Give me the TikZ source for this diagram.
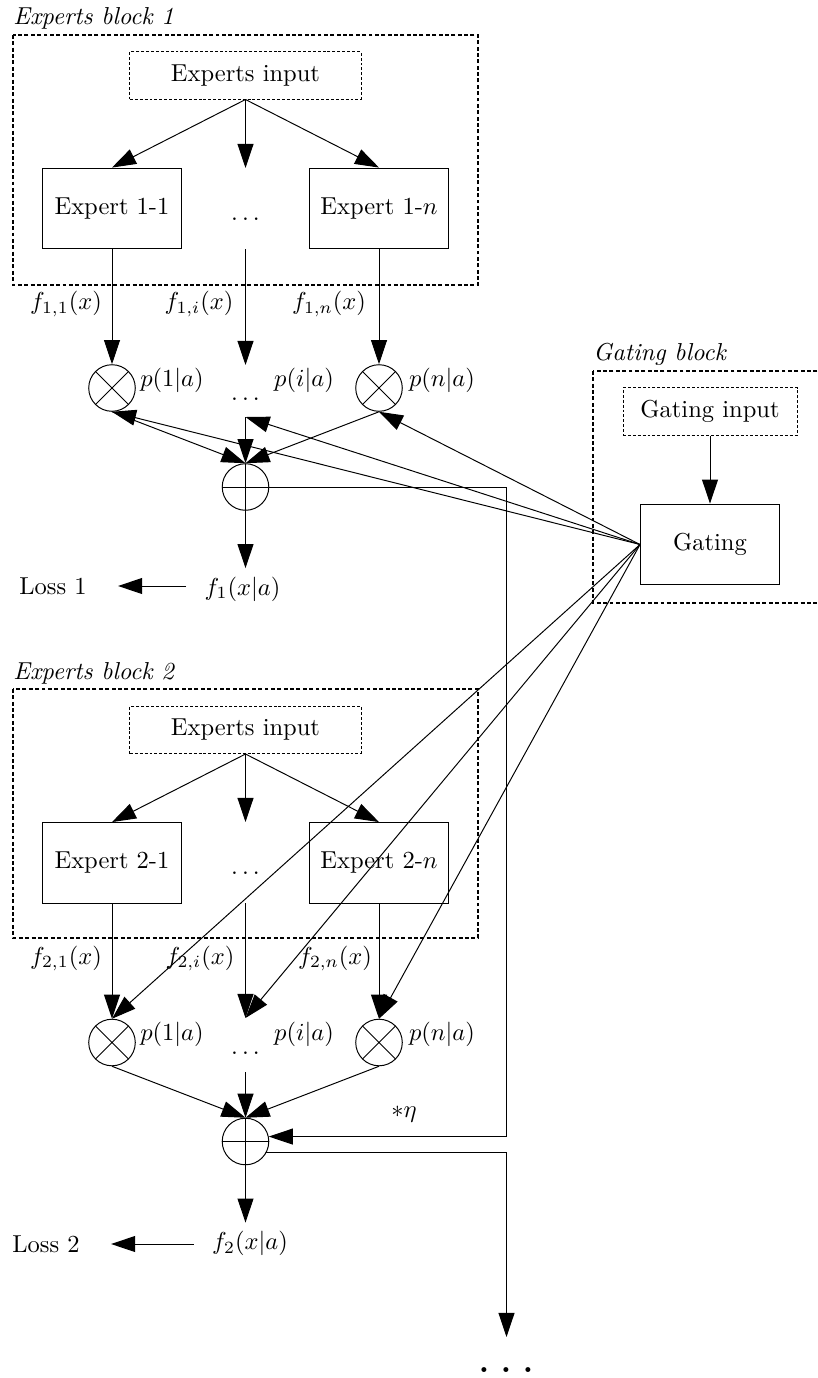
\documentclass[tikz,border=0pt]{standalone}
\usetikzlibrary{arrows.meta}
\begin{document}
\begin{tikzpicture}[x=0.408pt, y=-0.408pt,
                    boxStyle/.style={draw, minimum width=56.7pt, minimum height=33pt},
                    inputStyle/.style={draw, dash pattern=on 1.2pt off 0.8pt, minimum height=19.2pt},
                    blockStyle/.style={draw, line width=0.8pt, dash pattern=on 1.6pt off 1pt},
                    labelStyle/.style={anchor=base west, inner sep=0pt, font=\itshape},
                    prodStyle/.style={circle, draw, minimum size=19pt, inner sep=0pt,
                        path picture={\draw (path picture bounding box.north west) -- (path picture bounding box.south east)
                                            (path picture bounding box.north east) -- (path picture bounding box.south west);}},
                    sumStyle/.style={circle, draw, minimum size=19pt, inner sep=0pt,
                        path picture={\draw (path picture bounding box.north) -- (path picture bounding box.south)
                                            (path picture bounding box.west) -- (path picture bounding box.east);}},
                    arrowStyle/.style={-{Triangle[length=9.8pt, width=6.5pt]}},
                    lossArrow/.style={arrowStyle, shorten <=4pt, shorten >=9.3pt}]
                    \useasboundingbox (0,0) rectangle (818,1378);

                    % experts block 1
                    \draw[blockStyle] (13,35) rectangle (478,285);
                    \node[labelStyle](lab1) at (13,25) {Experts block 1};
                    \node[inputStyle, minimum width=94.3pt](in1) at (245.5,75.5) {Experts input};
                    \node[boxStyle](e11) at (112,208.5) {Expert 1-1};
                    \node[boxStyle](e1n) at (379,208.5) {Expert 1-$n$};
                    \node(d1a) at (245.5,219) {$\ldots$};
                    \coordinate (t1) at (245.5,168);
                    \coordinate (b1) at (245.5,249);
                    \coordinate (m1) at (245.5,365);
                    \coordinate (l1) at (245.5,417);
                    \node(f11) at (66,304) {$f_{1,1}(x)$};
                    \node(f1i) at (199,304) {$f_{1,i}(x)$};
                    \node(f1n) at (329,304) {$f_{1,n}(x)$};
                    \node[prodStyle](p11) at (112,388) {};
                    \node[prodStyle](p1n) at (379,388) {};
                    \node(d1b) at (245.5,399) {$\ldots$};
                    \node(q11) at (172,380) {$p(1|a)$};
                    \node(q1i) at (304,380) {$p(i|a)$};
                    \node(q1n) at (442,380) {$p(n|a)$};
                    \node[sumStyle](s1) at (245.5,487) {};
                    \node(f1) at (242.5,589) {$f_1(x|a)$};
                    \node(loss1) at (53,586) {Loss 1};

                    \draw[arrowStyle] (in1.south) -- (e11.north);
                    \draw[arrowStyle] (in1.south) -- (t1);
                    \draw[arrowStyle] (in1.south) -- (e1n.north);
                    \draw[arrowStyle] (e11) -- (p11);
                    \draw[arrowStyle] (b1) -- (m1);
                    \draw[arrowStyle] (e1n) -- (p1n);
                    \draw[arrowStyle] (p11.south) -- (s1.north);
                    \draw[arrowStyle] (l1) -- (s1.north);
                    \draw[arrowStyle] (p1n.south) -- (s1.north);
                    \draw[arrowStyle] (s1.south) -- (s1.south |- f1.north);
                    \draw[lossArrow] (f1.west |- loss1) -- (loss1.east);

                    % gating block
                    \draw[blockStyle] (593,371) rectangle (830,603);
                    \node[labelStyle](labg) at (593,360) {Gating block};
                    \node[inputStyle, minimum width=71pt](gin) at (710,411.5) {Gating input};
                    \node[boxStyle](gate) at (710,544.5) {Gating};
                    \draw[arrowStyle] (gin) -- (gate);

                    % experts block 2
                    \draw[blockStyle] (13,689) rectangle (478,938);
                    \node[labelStyle](lab2) at (13,679) {Experts block 2};
                    \node[inputStyle, minimum width=94.3pt](in2) at (245.5,730) {Experts input};
                    \node[boxStyle](e21) at (112,863) {Expert 2-1};
                    \node[boxStyle](e2n) at (379,863) {Expert 2-$n$};
                    \node(d2a) at (245.5,873.5) {$\ldots$};
                    \coordinate (t2) at (245.5,822);
                    \coordinate (b2) at (245.5,903);
                    \coordinate (m2) at (245.5,1018);
                    \coordinate (l2) at (245.5,1072);
                    \node(f21) at (66,958.5) {$f_{2,1}(x)$};
                    \node(f2i) at (200,958.5) {$f_{2,i}(x)$};
                    \node(f2n) at (335,958.5) {$f_{2,n}(x)$};
                    \node[prodStyle](p21) at (112,1042.5) {};
                    \node[prodStyle](p2n) at (379,1042.5) {};
                    \node(d2b) at (245.5,1053.5) {$\ldots$};
                    \node(q21) at (172,1034) {$p(1|a)$};
                    \node(q2i) at (304,1034) {$p(i|a)$};
                    \node(q2n) at (442,1034) {$p(n|a)$};
                    \node[sumStyle](s2) at (245.5,1141.5) {};
                    \node(f2) at (250,1243.5) {$f_2(x|a)$};
                    \node(loss2) at (46,1244) {Loss 2};

                    \draw[arrowStyle] (in2.south) -- (e21.north);
                    \draw[arrowStyle] (in2.south) -- (t2);
                    \draw[arrowStyle] (in2.south) -- (e2n.north);
                    \draw[arrowStyle] (e21) -- (p21);
                    \draw[arrowStyle] (b2) -- (m2);
                    \draw[arrowStyle] (e2n) -- (p2n);
                    \draw[arrowStyle] (p21.south) -- (s2.north);
                    \draw[arrowStyle] (l2) -- (s2.north);
                    \draw[arrowStyle] (p2n.south) -- (s2.north);
                    \draw[arrowStyle] (s2.south) -- (s2.south |- f2.north);
                    \draw[lossArrow] (f2.west |- loss2) -- (loss2.east);

                    % gating outputs
                    \draw[arrowStyle] (gate.west) -- (p11.south);
                    \draw[arrowStyle] (gate.west) -- (l1);
                    \draw[arrowStyle] (gate.west) -- (p1n.south);
                    \draw[arrowStyle] (gate.west) -- (p21.north);
                    \draw[arrowStyle] (gate.west) -- (m2);
                    \draw[arrowStyle] (gate.west) -- (p2n.north);

                    % feedback to the next block
                    \coordinate (fb) at (506.5,1136);
                    \coordinate (out) at (506.5,1337);
                    \node(eta) at (404,1114) {$*\eta$};
                    \draw[arrowStyle] (s1.east) -| (fb |- s2.12) -- (s2.12);
                    \draw[arrowStyle] (s2.-28) -| (out);
                    \node[anchor=base, inner sep=0pt](more) at (506.5,1372.5) {\huge$\ldots$};
                \end{tikzpicture}
\end{document}
